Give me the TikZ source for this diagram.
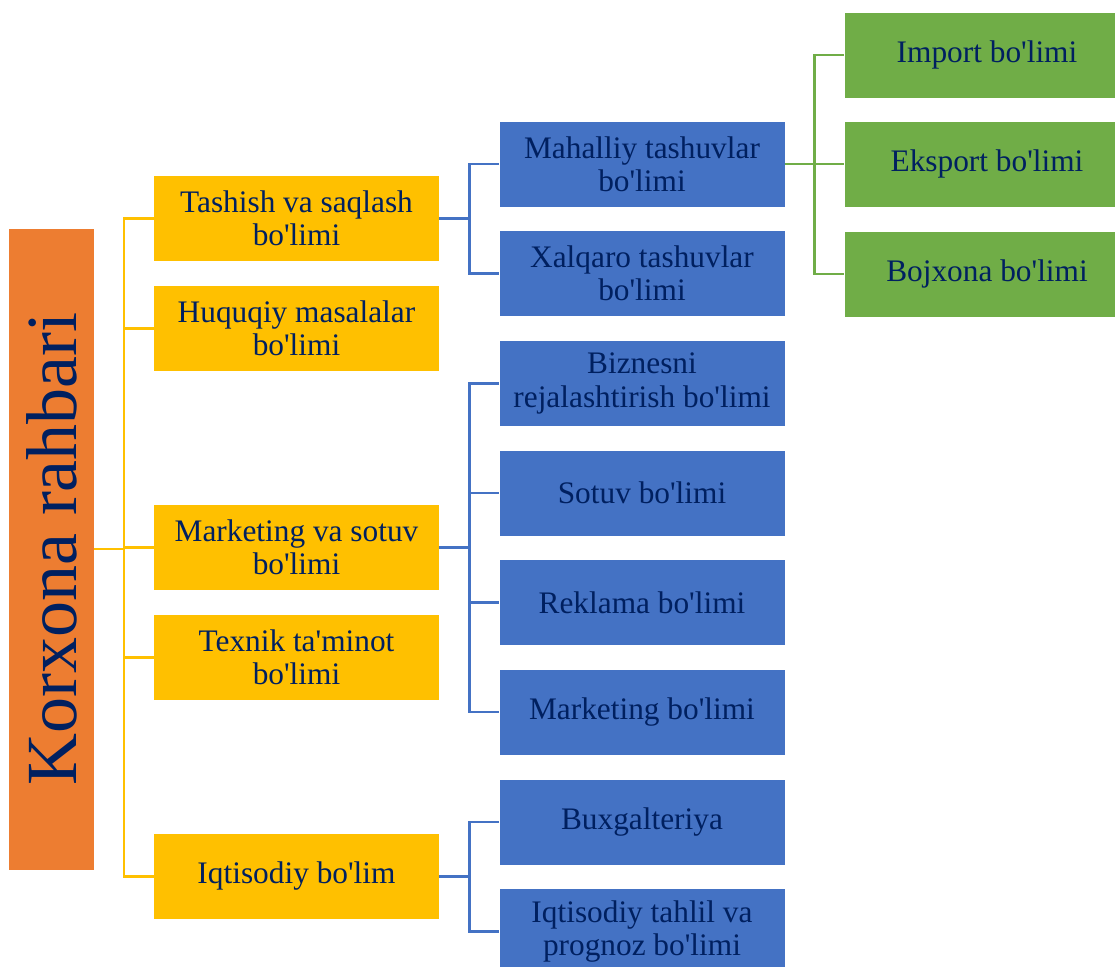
\documentclass[tikz,border=0pt]{standalone}
\usepackage{fontspec}
\setmainfont{Liberation Serif}
\usetikzlibrary{calc}
\definecolor{cOrange}{HTML}{ED7D31}
\definecolor{cYellow}{HTML}{FFC000}
\definecolor{cBlue}{HTML}{4472C4}
\definecolor{cGreen}{HTML}{70AD47}
\definecolor{cNavy}{RGB}{0,32,96}
\newcommand\ap{\XeTeXglyph\XeTeXglyphindex "quotesingle"\relax}
\begin{document}
\begin{tikzpicture}[x=0.75pt,y=-0.75pt,
  box/.style={minimum width=213.75pt,minimum height=63.75pt,inner sep=2pt,align=center,
    text=cNavy,font=\fontsize{23.5}{25}\selectfont},
  ybox/.style={box,fill=cYellow},
  bbox/.style={box,fill=cBlue},
  gbox/.style={box,fill=cGreen},
  rootbox/.style={fill=cOrange,rotate=90,minimum width=480.75pt,minimum height=63.75pt,
    inner sep=0pt,text=cNavy,font=\fontsize{54}{54}\selectfont},
  yline/.style={draw=cYellow,line width=2pt},
  bline/.style={draw=cBlue,line width=2pt},
  gline/.style={draw=cGreen,line width=2pt}]
\useasboundingbox (0,0) rectangle (1115,967);

\node[rootbox] (root) at (51.5,549) {Korxona rahbari};

\node[ybox] (y1) at (296.5,218.5) {Tashish va saqlash\\bo\ap limi};
\node[ybox] (y2) at (296.5,328.5) {Huquqiy masalalar\\bo\ap limi};
\node[ybox] (y3) at (296.5,547.5) {Marketing va sotuv\\bo\ap limi};
\node[ybox] (y4) at (296.5,657.5) {Texnik ta\ap minot\\bo\ap limi};
\node[ybox] (y5) at (296.5,876.5) {Iqtisodiy bo\ap lim};

\node[bbox] (b1) at (642,164) {Mahalliy tashuvlar\\bo\ap limi};
\node[bbox] (b2) at (642,273.5) {Xalqaro tashuvlar\\bo\ap limi};
\node[bbox] (b3) at (642,383.5) {Biznesni\\rejalashtirish bo\ap limi};
\node[bbox] (b4) at (642,493) {Sotuv bo\ap limi};
\node[bbox] (b5) at (642,602.5) {Reklama bo\ap limi};
\node[bbox] (b6) at (642,712) {Marketing bo\ap limi};
\node[bbox] (b7) at (642,822) {Buxgalteriya};
\node[bbox] (b8) at (642,931.5) {Iqtisodiy tahlil va\\prognoz bo\ap limi};

\node[gbox] (g1) at (987,55) {Import bo\ap limi};
\node[gbox] (g2) at (987,164) {Eksport bo\ap limi};
\node[gbox] (g3) at (987,274) {Bojxona bo\ap limi};

\coordinate (yx) at (124,0);
\coordinate (bx) at (469.5,0);
\coordinate (gx) at (814.5,0);

% yellow tree
\draw[yline] (root.south) -- (yx |- root.south);
\draw[yline] (y1.west) -| (yx |- y5.west) -- (y5.west);
\foreach \n in {y2,y3,y4} \draw[yline] (yx |- \n.west) -- (\n.west);

% blue trees
\draw[bline] (y1.east) -- (bx |- y1.east);
\draw[bline] (b1.west) -| (bx |- b2.west) -- (b2.west);
\draw[bline] (y3.east) -- (bx |- y3.east);
\draw[bline] (b3.west) -| (bx |- b6.west) -- (b6.west);
\foreach \n in {b4,b5} \draw[bline] (bx |- \n.west) -- (\n.west);
\draw[bline] (y5.east) -- (bx |- y5.east);
\draw[bline] (b7.west) -| (bx |- b8.west) -- (b8.west);

% green tree
\draw[gline] (b1.east) -- (gx |- b1.east);
\draw[gline] (g1.west) -| (gx |- g3.west) -- (g3.west);
\draw[gline] (gx |- g2.west) -- (g2.west);
\end{tikzpicture}
\end{document}
